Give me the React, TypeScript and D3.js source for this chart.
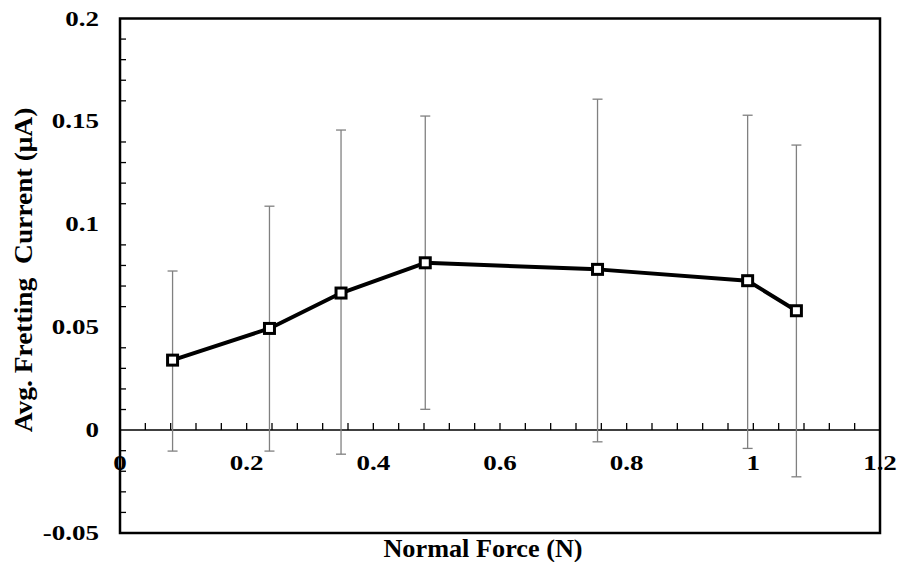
import * as d3 from "d3";

// Normal force (N) and averaged fretting current (uA) with error-bar ends
const forces = [0.083, 0.236, 0.349, 0.482, 0.754, 0.991, 1.068];
const currents = [0.034, 0.0494, 0.0666, 0.0813, 0.0781, 0.0726, 0.058];
const upperErr = [0.0773, 0.1088, 0.1458, 0.1526, 0.1608, 0.153, 0.1385];
const lowerErr = [-0.0102, -0.0102, -0.0117, 0.0101, -0.0057, -0.0089, -0.0227];

const xTickLabels = ["0", "0.2", "0.4", "0.6", "0.8", "1", "1.2"];
const yTickLabels = ["-0.05", "0", "0.05", "0.1", "0.15", "0.2"];

const width = 897, height = 562;
const margin = { left: 120, right: 17, top: 18.5, bottom: 29 };
const font = "'Liberation Serif', 'Times New Roman', serif";
const tickStretch = 1.35; // labels in the original are wide

export default function App() {
  const x = d3.scaleLinear().domain([0, 1.2]).range([margin.left, width - margin.right]);
  const y = d3.scaleLinear().domain([-0.05, 0.2]).range([height - margin.bottom, margin.top]);

  const pts = forces.map((f, i) => ({ f, c: currents[i], hi: upperErr[i], lo: lowerErr[i] }));
  const line = d3.line<{ f: number; c: number }>()
    .x(d => x(d.f))
    .y(d => y(d.c));

  // minor ticks
  const xMinor = d3.range(1, 30).map(i => i * 0.04);
  const yMinor = d3.range(-4, 20).map(i => i * 0.01).filter(v => Math.abs((v * 100) % 5) > 0.01);

  const y0 = y(0);

  return (
    <svg width={width} height={height} style={{ position: "absolute", left: 0, top: 0, background: "#fff" }}>
      <rect x={0} y={0} width={width} height={height} fill="#fff" />

      {/* y minor ticks */}
      {yMinor.map((v, i) => (
        <line key={"ym" + i} x1={x(0)} x2={x(0) + 6} y1={y(v)} y2={y(v)} stroke="#000" strokeWidth={1.3} />
      ))}

      {/* x axis line at zero */}
      <line x1={x(0)} x2={x(1.2)} y1={y0} y2={y0} stroke="#000" strokeWidth={1.5} />
      {xMinor.map((v, i) => (
        <line key={"xm" + i} x1={x(v)} x2={x(v)} y1={y0} y2={y0 - 7} stroke="#000" strokeWidth={1.3} />
      ))}

      {/* error bars */}
      {pts.map((d, i) => (
        <g key={"e" + i} stroke="#808080" strokeWidth={1.3}>
          <line x1={x(d.f)} x2={x(d.f)} y1={y(d.hi)} y2={y(d.lo)} />
          <line x1={x(d.f) - 5} x2={x(d.f) + 5} y1={y(d.hi)} y2={y(d.hi)} />
          <line x1={x(d.f) - 5} x2={x(d.f) + 5} y1={y(d.lo)} y2={y(d.lo)} />
        </g>
      ))}

      {/* series */}
      <path d={line(pts) || ""} fill="none" stroke="#000" strokeWidth={4} strokeLinejoin="round" />
      {pts.map((d, i) => (
        <rect key={"m" + i} x={x(d.f) - 5} y={y(d.c) - 5} width={10} height={10}
          fill="#fff" stroke="#000" strokeWidth={3} />
      ))}

      {/* frame */}
      <rect x={x(0)} y={y(0.2)} width={x(1.2) - x(0)} height={y(-0.05) - y(0.2)}
        fill="none" stroke="#000" strokeWidth={2.5} />

      {/* y tick labels */}
      {yTickLabels.map(t => (
        <text key={"yl" + t} transform={`translate(99,${y(+t)}) scale(${tickStretch},1)`} dy="0.35em" textAnchor="end"
          fontFamily={font} fontWeight="bold" fontSize={20} fill="#000">{t}</text>
      ))}

      {/* x tick labels */}
      {xTickLabels.map(t => (
        <text key={"xl" + t} transform={`translate(${x(+t)},${y0 + 33}) scale(${tickStretch},1)`} dy="0.35em" textAnchor="middle"
          fontFamily={font} fontWeight="bold" fontSize={20} fill="#000">{t}</text>
      ))}

      {/* axis titles */}
      <text transform="translate(483,556.5) scale(1.05,1)" textAnchor="middle" fontFamily={font} fontWeight="bold" fontSize={25} fill="#000">
        Normal Force (N)
      </text>
      <text transform="translate(31.5,270) rotate(-90) scale(1.1,1)" textAnchor="middle"
        fontFamily={font} fontWeight="bold" fontSize={25} fill="#000" style={{ whiteSpace: "pre" }}>
        {"Avg. Fretting  Current (\u03bcA)"}
      </text>
    </svg>
  );
}
